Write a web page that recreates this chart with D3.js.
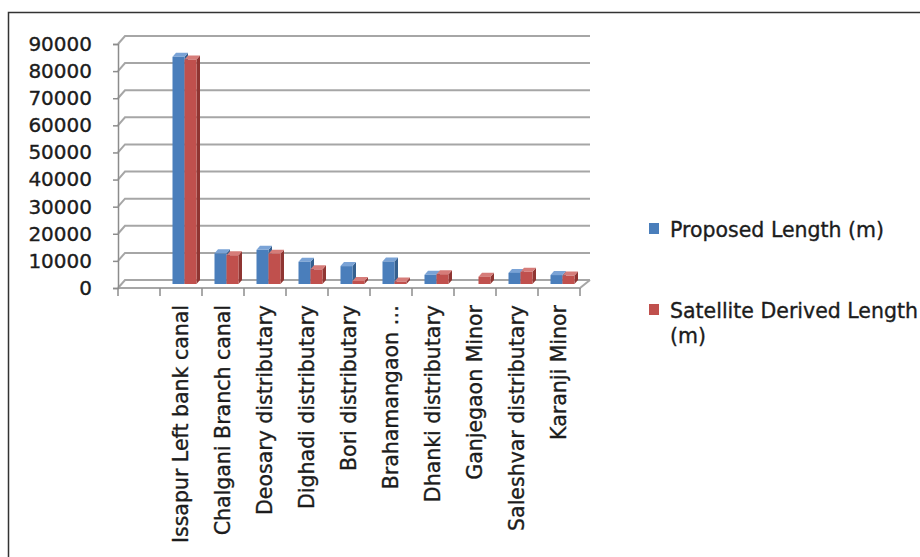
<!DOCTYPE html>
<html>
<head>
<meta charset="utf-8">
<script src="https://cdn.jsdelivr.net/npm/d3@7"></script>
<style>
  body { margin: 0; background: #fff; }
  svg text { font-family: "DejaVu Sans", sans-serif; fill: #1c1c1c; stroke: #1c1c1c; stroke-width: 0.35px; }
</style>
</head>
<body>
<svg id="chart" width="920" height="557"></svg>
<script>
// Data
const categories = [
  "Issapur Left bank canal", "Chalgani Branch canal", "Deosary distributary",
  "Dighadi distributary", "Bori distributary", "Brahamangaon \u2026",
  "Dhanki distributary", "Ganjegaon Minor", "Saleshvar distributary", "Karanji Minor"
];
const proposedLength = [83800, 11300, 12600, 8200, 6600, 8300, 3400, null, 4100, 3300];
const satelliteLength = [82800, 10600, 11200, 5400, 1100, 900, 3600, 2700, 4500, 3100];
const seriesNames = ["Proposed Length (m)", "Satellite Derived Length (m)"];
const yTicks = [0, 10000, 20000, 30000, 40000, 50000, 60000, 70000, 80000, 90000];

const colors = {
  blue: { front: "#4a7ebb", side: "#35608f", top: "#7aa3d6" },
  red: { front: "#c0504d", side: "#8f3532", top: "#d67c79" }
};

const svg = d3.select("#chart");

// frame around the chart area
svg.append("rect")
  .attr("x", 8.5).attr("y", 12.5)
  .attr("width", 930).attr("height", 560)
  .attr("fill", "#fff")
  .attr("stroke", "#333").attr("stroke-width", 1.5);

// 3D depth of the plot box (back wall offset)
const depth = { dx: 7, dy: -8 };

// Excel left a blank first slot on the category axis
const x = d3.scaleBand().domain(["", ...categories]).range([118, 580]);
const y = d3.scaleLinear().domain([0, 90000]).range([288, 44]);

const xSub = d3.scaleBand().domain(["blue", "red"]).range([9, 33]);

// back wall gridlines + side wall diagonals
const grid = svg.append("g").attr("class", "grid");
yTicks.forEach(t => {
  grid.append("path")
    .attr("d", `M${x.range()[0]},${y(t)} L${x.range()[0] + depth.dx},${y(t) + depth.dy} L${x.range()[1] + 10},${y(t) + depth.dy}`)
    .attr("fill", "none")
    .attr("stroke", "#a6a6a6")
    .attr("stroke-width", 2);
});

// floor front edge and right edge
grid.append("path")
  .attr("d", `M${x.range()[0]},${y(0)} L${x.range()[1]},${y(0)} L${x.range()[1] + 10},${y(0) + depth.dy}`)
  .attr("fill", "none")
  .attr("stroke", "#a6a6a6")
  .attr("stroke-width", 2);

// y axis
const yAxis = d3.axisLeft(y).tickValues(yTicks).tickSize(5).tickPadding(21).tickFormat(d3.format("d"));
const yAxisGroup = svg.append("g")
  .attr("transform", `translate(${x.range()[0]},0)`)
  .call(yAxis);
yAxisGroup.select(".domain").attr("stroke", "#8c8c8c").attr("stroke-width", 1.5);
yAxisGroup.selectAll(".tick line").attr("stroke", "#8c8c8c").attr("stroke-width", 1.5);
yAxisGroup.selectAll(".tick text")
  .attr("font-size", 20)
  .style("font-family", "DejaVu Sans, sans-serif")
  .attr("fill", "#1c1c1c");

// x axis tick marks at slot boundaries
const boundaries = [...x.domain().map(d => x(d)), x.range()[1]];
svg.append("g").selectAll("line")
  .data(boundaries)
  .join("line")
  .attr("x1", d => d).attr("x2", d => d)
  .attr("y1", y(0)).attr("y2", y(0) + 8)
  .attr("stroke", "#8c8c8c").attr("stroke-width", 1.5);

// category labels, rotated
svg.append("g").selectAll("text")
  .data(categories)
  .join("text")
  .attr("transform", d => `translate(${x(d) + x.bandwidth() / 2 + 7},305) rotate(-90)`)
  .attr("text-anchor", "end")
  .attr("font-size", 20.5)
  .text(d => d);

// bars as simple 3D boxes
const t0 = 0.5, t1 = 1.0;
const bars = [];
categories.forEach((c, i) => {
  bars.push({ cat: c, key: "blue", value: proposedLength[i] });
  bars.push({ cat: c, key: "red", value: satelliteLength[i] });
});

const barGroup = svg.append("g").attr("class", "bars");
bars.filter(d => d.value != null).forEach(d => {
  const x0 = x(d.cat) + xSub(d.key) + depth.dx * t0;
  const x1 = x0 + xSub.bandwidth();
  const yb = y(0) + depth.dy * t0;
  const yt = y(d.value) + depth.dy * t0;
  const ddx = depth.dx * (t1 - t0), ddy = depth.dy * (t1 - t0);
  const col = colors[d.key];
  const g = barGroup.append("g");
  // side face
  g.append("path")
    .attr("d", `M${x1},${yb} L${x1 + ddx},${yb + ddy} L${x1 + ddx},${yt + ddy} L${x1},${yt} Z`)
    .attr("fill", col.side);
  // top face
  g.append("path")
    .attr("d", `M${x0},${yt} L${x0 + ddx},${yt + ddy} L${x1 + ddx},${yt + ddy} L${x1},${yt} Z`)
    .attr("fill", col.top);
  // front face
  g.append("rect")
    .attr("x", x0).attr("y", yt)
    .attr("width", xSub.bandwidth())
    .attr("height", Math.max(0, yb - yt))
    .attr("fill", col.front);
});

// legend
const legend = svg.append("g").attr("class", "legend");
const legendItems = [
  { name: seriesNames[0], lines: ["Proposed Length (m)"], color: colors.blue.front, y: 237 },
  { name: seriesNames[1], lines: ["Satellite Derived Length", "(m)"], color: colors.red.front, y: 318 }
];
legendItems.forEach(item => {
  legend.append("rect")
    .attr("x", 649).attr("y", item.y - 14)
    .attr("width", 10).attr("height", 11)
    .attr("fill", item.color);
  const txt = legend.append("text")
    .attr("x", 670).attr("y", item.y)
    .attr("font-size", 20.5);
  item.lines.forEach((l, k) => {
    txt.append("tspan").attr("x", 670).attr("dy", k === 0 ? 0 : 25).text(l);
  });
});
</script>
</body>
</html>
